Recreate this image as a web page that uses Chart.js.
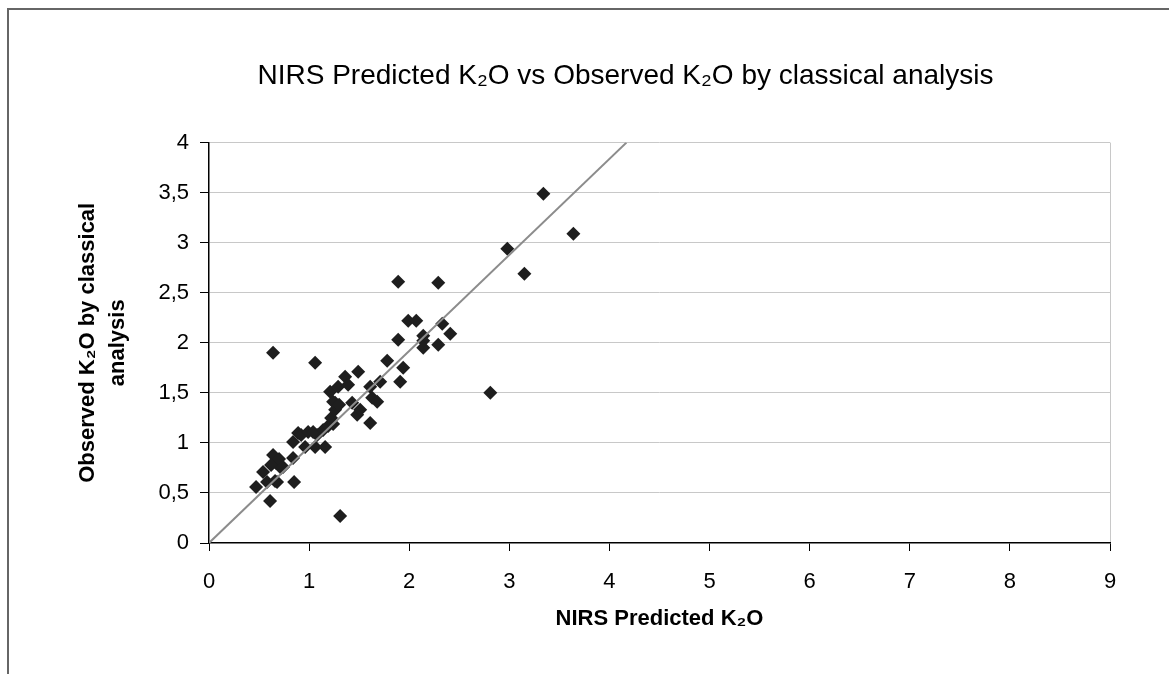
<!DOCTYPE html>
<html lang="en">
  <head>
    <meta charset="UTF-8" />
    <title>NIRS Predicted K2O vs Observed K2O</title>
    <script src="https://cdn.jsdelivr.net/npm/chart.js"></script>
    <style>
      body {
        margin: 0;
        background-color: white;
      }
      #wrap {
        position: relative;
        width: 1169px;
        height: 674px;
      }
      #frame {
        position: absolute;
        left: 7px;
        top: 8px;
        right: 0;
        bottom: 0;
        border-top: 2px solid #666;
        border-left: 2px solid #666;
        pointer-events: none;
      }
    </style>
  </head>
  <body>
    <div id="wrap">
      <canvas id="k2oChart"></canvas>
      <div id="frame"></div>
    </div>

    <script>
      // NIRS predicted K2O (x) and observed K2O by classical analysis (y)
      const predicted = [0.47, 0.54, 0.58, 0.68, 0.61, 0.64, 0.67, 0.62, 0.72, 0.70, 0.74, 0.84, 0.85, 0.84,
        0.89, 0.92, 0.99, 1.08, 0.96, 1.06, 1.16, 1.04, 1.14, 1.19, 1.24, 1.22, 1.26, 1.26, 1.24, 1.30,
        1.43, 1.48, 1.51, 1.61, 1.63, 1.68, 1.21, 1.29, 1.36, 1.39, 1.49, 1.61, 1.71, 1.78, 1.91, 1.94,
        1.89, 1.89, 2.29, 1.99, 2.07, 2.33, 2.41, 2.14, 2.14, 2.14, 2.29, 2.81, 2.98, 3.15, 3.34, 3.64,
        0.64, 1.06, 1.31, 0.66];
      const observed = [0.56, 0.71, 0.61, 0.61, 0.42, 0.88, 0.80, 0.78, 0.75, 0.84, 0.76, 0.85, 0.61, 1.01,
        1.10, 1.08, 1.11, 1.08, 0.96, 0.96, 0.96, 1.11, 1.13, 1.17, 1.19, 1.25, 1.33, 1.40, 1.41, 1.38,
        1.40, 1.28, 1.33, 1.20, 1.45, 1.41, 1.51, 1.56, 1.66, 1.58, 1.71, 1.56, 1.61, 1.82, 1.61, 1.75,
        2.03, 2.61, 2.60, 2.22, 2.22, 2.19, 2.09, 2.07, 2.02, 1.95, 1.98, 1.50, 2.94, 2.69, 3.49, 3.09,
        1.90, 1.80, 0.27, 0.62];

      // regression line through the origin
      const trendX = [0, 4.17];
      const trendY = [0, 4];

      const titleText = 'NIRS Predicted K\u2082O vs Observed K\u2082O by classical analysis';
      const xTitle = 'NIRS Predicted K\u2082O';
      const yTitle = ['Observed K\u2082O by classical', 'analysis'];

      const fontFamily = "'Liberation Sans', Arial, sans-serif";

      const points = predicted.map((x, i) => ({ x: x, y: observed[i] }));
      const trend = trendX.map((x, i) => ({ x: x, y: trendY[i] }));

      new Chart(document.getElementById('k2oChart').getContext('2d'), {
        type: 'scatter',
        data: {
          datasets: [
            {
              label: 'Trend',
              data: trend,
              showLine: true,
              borderColor: '#8c8c8c',
              borderWidth: 2,
              pointRadius: 0,
              fill: false
            },
            {
              label: 'Samples',
              data: points,
              pointStyle: 'rectRot',
              pointRadius: 7,
              pointHoverRadius: 7,
              backgroundColor: '#1e1e1e',
              borderColor: '#1e1e1e',
              borderWidth: 0
            }
          ]
        },
        options: {
          responsive: true,
          maintainAspectRatio: false,
          animation: false,
          layout: {
            padding: { left: 141, right: 59, top: 0, bottom: 0 }
          },
          plugins: {
            legend: { display: false },
            tooltip: { enabled: false },
            title: {
              display: true,
              text: titleText,
              color: '#000',
              font: { family: fontFamily, size: 28, weight: 'normal', lineHeight: 1.2 },
              padding: { top: 59, bottom: 50 }
            }
          },
          scales: {
            x: {
              type: 'linear',
              min: 0,
              max: 9,
              afterFit: scale => { scale.height = 131; },
              ticks: {
                stepSize: 1,
                color: '#000',
                padding: 18,
                font: { family: fontFamily, size: 22 }
              },
              grid: {
                drawOnChartArea: true,
                color: ctx => (ctx.tick && ctx.tick.value === 9 ? '#c8c8c8' : 'rgba(0,0,0,0)'),
                tickColor: '#000',
                tickLength: 8
              },
              border: { color: '#000', width: 1.5 },
              title: {
                display: true,
                text: xTitle,
                color: '#000',
                font: { family: fontFamily, size: 22, weight: 'bold', lineHeight: 1.2 },
                padding: { top: 0, bottom: 42 }
              }
            },
            y: {
              type: 'linear',
              min: 0,
              max: 4,
              afterFit: scale => { scale.width = 68; },
              ticks: {
                stepSize: 0.5,
                color: '#000',
                padding: 11,
                font: { family: fontFamily, size: 22 },
                callback: value => value.toString().replace('.', ',')
              },
              grid: {
                color: ctx => (ctx.tick && ctx.tick.value === 0 ? 'rgba(0,0,0,0)' : '#c8c8c8'),
                tickColor: '#000',
                tickLength: 9
              },
              border: { color: '#000', width: 1.5 },
              title: {
                display: true,
                text: yTitle,
                color: '#000',
                font: { family: fontFamily, size: 22, weight: 'bold', lineHeight: 1.36 },
                padding: { top: -68, bottom: 0 }
              }
            }
          }
        }
      });
    </script>
  </body>
</html>
